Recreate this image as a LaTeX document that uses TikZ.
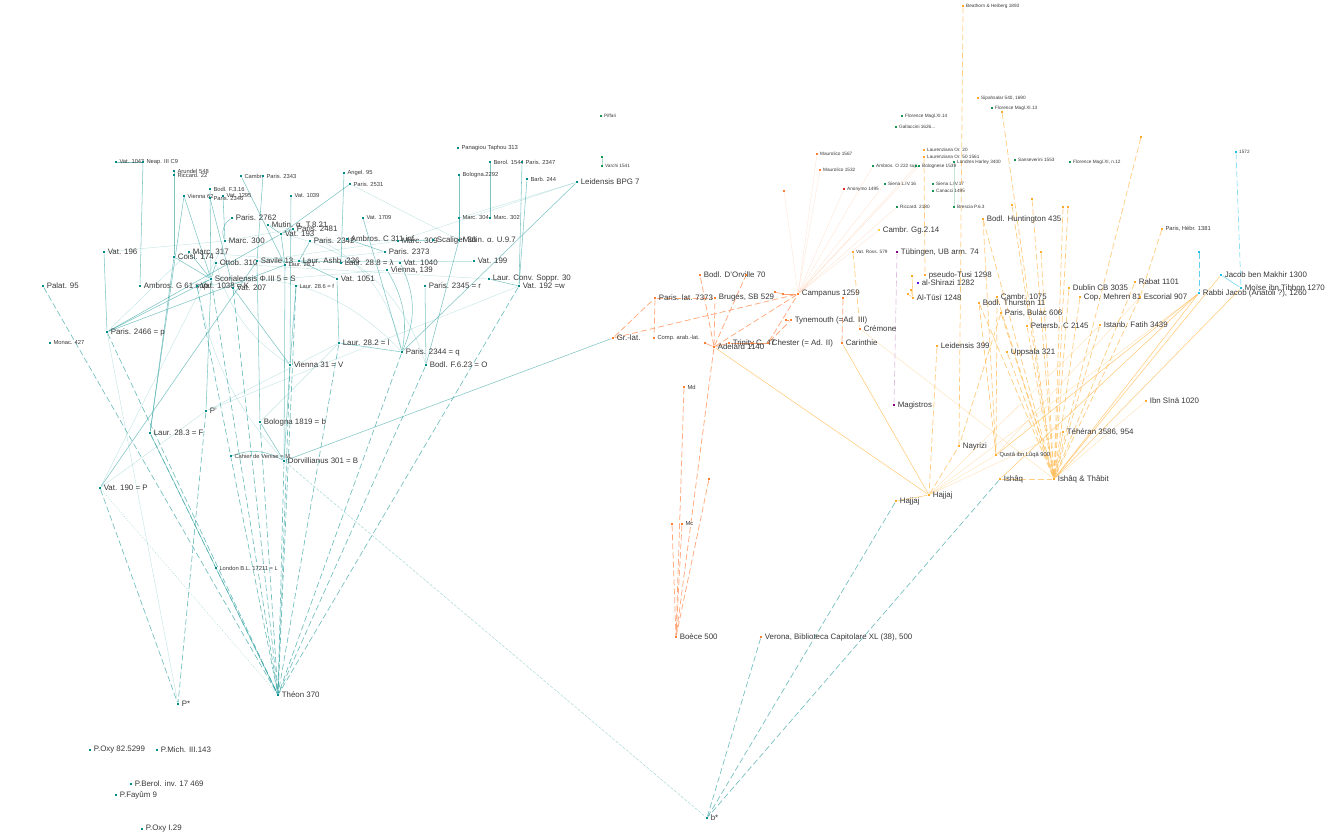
\documentclass[tikz,border=0pt]{standalone}
\usepackage{fontspec}
\setmainfont{Liberation Sans}
\definecolor{tc}{RGB}{0,139,139}
\definecolor{tl}{RGB}{50,160,160}
\definecolor{oc}{RGB}{255,127,50}
\definecolor{ol}{RGB}{255,160,110}
\definecolor{ac}{RGB}{255,170,40}
\definecolor{al}{RGB}{255,190,90}
\definecolor{gc}{RGB}{20,150,80}
\definecolor{cc}{RGB}{30,190,230}
\definecolor{pc}{RGB}{128,0,128}
\definecolor{bc}{RGB}{100,20,230}
\definecolor{rc}{RGB}{220,40,40}
\definecolor{yc}{RGB}{255,210,60}
\pgfdeclarelayer{bg}
\pgfsetlayers{bg,main}
\tikzset{
  dot/.style={rectangle,inner sep=0pt,minimum size=2.8pt,fill=#1},
  sdot/.style={rectangle,inner sep=0pt,minimum size=2.2pt,fill=#1},
  labB/.style={font=\fontsize{7.9}{8}\selectfont,inner sep=1.5pt,label distance=0.5pt,text=black!78},
  labM/.style={font=\fontsize{5.8}{6}\selectfont,inner sep=1.5pt,label distance=0.5pt,text=black!78},
  labS/.style={font=\fontsize{4.7}{5}\selectfont,inner sep=1.2pt,label distance=0.5pt,text=black!78},
  te/.style={draw=tl,line width=0.55pt,opacity=0.62},
  tf/.style={draw=tl,line width=0.45pt,opacity=0.28},
  td/.style={draw=tl,line width=0.65pt,dash pattern=on 6pt off 3pt,opacity=0.7},
  tdf/.style={draw=tl,line width=0.45pt,dash pattern=on 3pt off 1.5pt,opacity=0.45},
  tdot/.style={draw=tl,line width=0.4pt,dash pattern=on 1pt off 1.5pt,opacity=0.45},
  oe/.style={draw=ol,line width=0.6pt},
  od/.style={draw=ol,line width=0.75pt,dash pattern=on 6pt off 3pt,opacity=0.9},
  of/.style={draw=ol,line width=0.4pt,opacity=0.28},
  ae/.style={draw=al,line width=0.55pt,opacity=0.8},
  ad/.style={draw=al,line width=0.75pt,dash pattern=on 6pt off 3pt,opacity=0.75},
  af/.style={draw=al,line width=0.4pt,opacity=0.45},
  cd/.style={draw=cc!50,line width=0.7pt,dash pattern=on 6pt off 3pt},
  pd/.style={draw=pc!25,line width=0.7pt,dash pattern=on 6pt off 3pt},
}
\newcommand\mnode[6]{\node[dot=#4,label={[lab#5]right:{#6}}] (#1) at (#2,#3) {};}
\newcommand\snode[6]{\node[sdot=#4,label={[lab#5]right:{#6}}] (#1) at (#2,#3) {};}
\newcommand\udot[4]{\node[sdot=#4] (#1) at (#2,#3) {};}
\begin{document}
\begin{tikzpicture}[x=1pt,y=-1pt]
\path[use as bounding box] (0,0) rectangle (1334,834);
% ---------- teal (Greek) nodes ----------
\snode{vat1043}{116}{162}{tc}{M}{Vat. 1043}
\snode{neap}{143}{162}{tc}{M}{Neap. III C9}
\snode{arundel}{174}{171}{tc}{M}{Arundel 548}
\snode{ricc22}{174}{175}{tc}{M}{Riccard. 22}
\snode{cambr}{241}{176}{tc}{M}{Cambr.}
\snode{par2343}{263}{176}{tc}{M}{Paris. 2343}
\snode{bodlF}{210}{189}{tc}{M}{Bodl. F.3.16}
\snode{vien62}{184}{196}{tc}{M}{Vienna 62}
\snode{vat1295}{223}{196}{tc}{M}{Vat. 1295}
\snode{par2346}{210}{198}{tc}{M}{Paris. 2346}
\mnode{par2762}{232}{218}{tc}{B}{Paris. 2762}
\mnode{mutinT}{268}{225}{tc}{B}{Mutin. α. T.8.21}
\mnode{par2481}{293}{229}{tc}{B}{Paris. 2481}
\mnode{vat193}{281}{234}{tc}{B}{Vat. 193}
\mnode{marc300}{225}{241}{tc}{B}{Marc. 300}
\mnode{vat196}{104}{252}{tc}{B}{Vat. 196}
\mnode{marc317}{189}{252}{tc}{B}{Marc. 317}
\mnode{coisl}{174}{257}{tc}{B}{Coisl. 174}
\mnode{ottob}{216}{263}{tc}{B}{Ottob. 310}
\mnode{savile}{257}{261}{tc}{B}{Savile 13}
\mnode{scor}{211}{279}{tc}{B}{Scorialensis Φ.III 5 = S}
\mnode{palat}{43}{286}{tc}{B}{Palat. 95}
\mnode{ambG}{140}{286}{tc}{B}{Ambros. G 61 sup.}
\mnode{vat1038}{197}{286}{tc}{B}{Vat. 1038 = K}
\mnode{vat207}{233}{288}{tc}{B}{Vat. 207}
\snode{laur281}{285}{265}{tc}{M}{Laur. 28.1}
\mnode{laurAshb}{299}{261}{tc}{B}{Laur. Ashb. 236}
\mnode{laur288}{341}{263}{tc}{B}{Laur. 28.8 = λ}
\snode{laur286}{296}{286}{tc}{M}{Laur. 28.6 = f}
\snode{vat1039}{291}{196}{tc}{M}{Vat. 1039}
\snode{angel}{344}{173}{tc}{M}{Angel. 95}
\snode{par2531}{350}{184}{tc}{M}{Paris. 2531}
\snode{vat1709}{363}{218}{tc}{M}{Vat. 1709}
\mnode{par2342}{310}{241}{tc}{B}{Paris. 2342}
\mnode{ambC}{347}{239}{tc}{B}{Ambros. C 311 inf.}
\mnode{marc309}{398}{241}{tc}{B}{Marc. 309}
\mnode{scal}{433}{240}{tc}{B}{Scaliger 36}
\mnode{mutinU}{459}{240}{tc}{B}{Mutin. α. U.9.7}
\mnode{par2373}{385}{252}{tc}{B}{Paris. 2373}
\mnode{vat1040}{400}{263}{tc}{B}{Vat. 1040}
\mnode{vien139}{387}{270}{tc}{B}{Vienna, 139}
\mnode{vat1051}{337}{279}{tc}{B}{Vat. 1051}
\mnode{par2345}{425}{286}{tc}{B}{Paris. 2345 = r}
\mnode{vat199}{474}{261}{tc}{B}{Vat. 199}
\mnode{laurConv}{489}{279}{tc}{B}{Laur. Conv. Soppr. 30}
\mnode{vat192}{519}{286}{tc}{B}{Vat. 192 =w}
\snode{panag}{458}{148}{tc}{M}{Panagiou Taphou 313}
\snode{berol}{490}{162}{tc}{M}{Berol. 1544}
\snode{par2347}{522}{162}{tc}{M}{Paris. 2347}
\snode{bol2292}{459}{175}{tc}{M}{Bologna.2292}
\snode{barb}{527}{179}{tc}{M}{Barb. 244}
\mnode{leidBPG}{577}{182}{tc}{B}{Leidensis BPG 7}
\snode{marc304}{459}{218}{tc}{M}{Marc. 304}
\snode{marc302}{490}{218}{tc}{M}{Marc. 302}
\mnode{par2466}{107}{332}{tc}{B}{Paris. 2466 = p}
\snode{monac}{50}{343}{tc}{M}{Monac. 427}
\mnode{laur282}{339}{343}{tc}{B}{Laur. 28.2 = l}
\mnode{par2344}{402}{352}{tc}{B}{Paris. 2344 = q}
\mnode{vien31}{290}{365}{tc}{B}{Vienna 31 = V}
\mnode{bodlO}{426}{365}{tc}{B}{Bodl. F.6.23 = O}
\mnode{Pp}{206}{411}{tc}{B}{P'}
\mnode{bol1819}{260}{422}{tc}{B}{Bologna 1819 = b}
\mnode{laur283}{150}{433}{tc}{B}{Laur. 28.3 = F}
\snode{cahier}{231}{456}{tc}{M}{Cahier de Venise = M}
\mnode{dorv}{284}{461}{tc}{B}{Dorvillianus 301 = B}
\mnode{vat190}{100}{488}{tc}{B}{Vat. 190 = P}
\snode{london}{216}{568}{tc}{M}{London B.L. 17211 = L}
\mnode{theon}{278}{695}{tc}{B}{Théon 370}
\mnode{Pstar}{178}{704}{tc}{B}{P*}
\mnode{poxy82}{90}{750}{tc}{B}{P.Oxy 82.5299}
\mnode{pmich}{157}{750}{tc}{B}{P.Mich. III.143}
\mnode{pberol}{131}{784}{tc}{B}{P.Berol. inv. 17 469}
\mnode{pfay}{116}{795}{tc}{B}{P.Fayûm 9}
\mnode{poxyI}{142}{829}{tc}{B}{P.Oxy I.29}
\mnode{bstar}{707}{818}{tc}{B}{b*}
% ---------- green ----------
\snode{piffari}{601}{116}{gc}{S}{Piffari}
\udot{gdot}{602}{157}{gc}
\snode{varchi}{602}{166}{gc}{S}{Varchi 1541}
\snode{flor14}{902}{116}{gc}{S}{Florence Magl.XI.14}
\snode{gallac}{896}{127}{gc}{S}{Gallaccini 1626...}
\snode{flor13}{992}{108}{gc}{S}{Florence Magl.XI.13}
\snode{londres}{954}{162}{gc}{S}{Londres Harley 3400}
\snode{sansev}{1015}{160}{gc}{S}{Sanseverini 1553}
\snode{flor12}{1070}{162}{gc}{S}{Florence Magl.XI, n.12}
\snode{ambO}{873}{166}{gc}{S}{Ambros. O 222 sup.}
\udot{gdot2}{916}{166}{gc}
\snode{bolog39}{919}{166}{gc}{S}{Bolognese 1539}
\snode{siena16}{885}{184}{gc}{S}{Siena L.IV.16}
\snode{siena17}{933}{184}{gc}{S}{Siena L.IV.17}
\snode{canacci}{933}{191}{gc}{S}{Canacci 1495}
\snode{ricc2180}{897}{207}{gc}{S}{Riccard. 2180}
\snode{brescia}{954}{207}{gc}{S}{Brescia P.6.3}
% ---------- orange (Latin) ----------
\snode{maur67}{817}{154}{oc}{S}{Maurolico 1567}
\snode{maur32}{820}{170}{oc}{S}{Maurolico 1532}
\snode{anon}{844}{189}{rc}{S}{Anonymo 1495}
\udot{odot1}{784}{191}{oc}
\mnode{dorville}{700}{275}{oc}{B}{Bodl. D'Orville 70}
\udot{odot2}{746}{275}{oc}
\mnode{par7373}{655}{298}{oc}{B}{Paris. lat. 7373}
\mnode{bruges}{715}{298}{oc}{B}{Bruges, SB 529}
\udot{camp1}{775}{292}{oc}
\udot{camp2}{783}{294}{oc}
\mnode{campanus}{798}{294}{oc}{B}{Campanus 1259}
\udot{tyne2}{786}{320}{oc}
\mnode{tyne}{791}{320}{oc}{B}{Tynemouth (=Ad. III)}
\mnode{cremone}{860}{329}{oc}{B}{Crémone}
\mnode{grlat}{613}{338}{oc}{B}{Gr.-lat.}
\snode{complat}{654}{338}{oc}{M}{Comp. arab.-lat.}
\udot{adot}{705}{343}{oc}
\mnode{adelard}{714}{347}{oc}{B}{Adelard 1140}
\mnode{trinity}{729}{343}{oc}{B}{Trinity C. 47}
\udot{chdot}{752}{343}{oc}
\mnode{chester}{768}{343}{oc}{B}{Chester (= Ad. II)}
\udot{cardot}{843}{298}{oc}
\mnode{carinthie}{842}{343}{oc}{B}{Carinthie}
\snode{md}{684}{387}{oc}{M}{Md}
\udot{mdot2}{709}{479}{oc}
\udot{mcdot}{672}{524}{oc}
\snode{mc}{682}{524}{oc}{M}{Mc}
\mnode{boece}{676}{637}{oc}{B}{Boèce 500}
\mnode{verona}{761}{637}{oc}{B}{Verona, Biblioteca Capitolare XL (38), 500}
% ---------- amber (Arabic) ----------
\snode{besthorn}{963}{6}{ac}{S}{Beathorn \& Heiberg 1893}
\snode{sipah}{978}{98}{ac}{S}{Sipahsalar 540, 1690}
\udot{adot13}{1002}{112}{ac}
\snode{laurOr20}{924}{150}{ac}{S}{Laurenziana Or. 20}
\snode{laurOr50}{924}{157}{ac}{S}{Laurenziana Or. 50 1561}
\mnode{hunt}{983}{219}{ac}{B}{Bodl. Huntington 435}
\mnode{cambrGg}{879}{230}{yc}{B}{Cambr. Gg.2.14}
\udot{adotA}{1012}{205}{ac}
\udot{adotB}{1032}{199}{ac}
\udot{adotC}{1063}{207}{ac}
\udot{adotD}{1068}{207}{ac}
\udot{adotE}{1141}{137}{ac}
\udot{adotF}{1041}{252}{ac}
\snode{vatross}{853}{252}{ac}{S}{Vat. Ross. 579}
\mnode{tub}{897}{252}{pc}{B}{Tübingen, UB arm. 74}
\mnode{pseudo}{925}{275}{ac}{B}{pseudo-Tusi 1298}
\mnode{shirazi}{918}{283}{bc}{B}{al-Shirazi 1282}
\udot{tdot1}{912}{276}{ac}
\udot{tdot2}{908}{294}{ac}
\udot{tdot3}{911}{290}{ac}
\mnode{tusi}{913}{298}{ac}{B}{Al-Tūsī 1248}
\mnode{cambr1075}{997}{297}{ac}{B}{Cambr. 1075}
\mnode{thurston}{979}{303}{ac}{B}{Bodl. Thurston 11}
\mnode{bulac}{1001}{313}{ac}{B}{Paris, Bulac 606}
\mnode{petersb}{1027}{326}{ac}{B}{Petersb. C 2145}
\mnode{dublin}{1069}{288}{ac}{B}{Dublin CB 3035}
\mnode{copm}{1080}{297}{ac}{B}{Cop. Mehren 81}
\mnode{rabat}{1135}{282}{ac}{B}{Rabat 1101}
\mnode{escorial}{1140}{297}{ac}{B}{Escorial 907}
\mnode{istanb}{1100}{325}{ac}{B}{Istanb. Fatih 3439}
\mnode{leid399}{937}{346}{ac}{B}{Leidensis 399}
\mnode{uppsala}{1007}{352}{ac}{B}{Uppsala 321}
\snode{parhebr}{1162}{229}{ac}{M}{Paris, Hébr. 1381}
\snode{c1572}{1236}{152}{cc}{S}{1572}
\udot{cdot}{1199}{252}{cc}
\mnode{jacobM}{1221}{275}{cc}{B}{Jacob ben Makhir 1300}
\mnode{moise}{1241}{288}{cc}{B}{Moïse ibn Tibbon 1270}
\mnode{rabbiJ}{1199}{293}{cc}{B}{Rabbi Jacob (Anatoli ?), 1260}
\mnode{magistros}{894}{405}{pc}{B}{Magistros}
\mnode{ibnsina}{1146}{401}{ac}{B}{Ibn Sīnā 1020}
\mnode{teheran}{1063}{432}{ac}{B}{Téhéran 3586, 954}
\mnode{nayrizi}{959}{446}{ac}{B}{Nayrizi}
\snode{qusta}{996}{455}{ac}{M}{Qustâ ibn Lûqâ 900}
\mnode{ishaq}{1000}{479}{ac}{B}{Ishâq}
\mnode{ishaqT}{1054}{479}{ac}{B}{Ishâq \& Thâbit}
\mnode{hajjajR}{929}{495}{ac}{B}{Hajjaj}
\mnode{hajjajL}{896}{501}{ac}{B}{Hajjaj}
% ================= edges =================
\begin{pgfonlayer}{bg}
% teal solid
\foreach \a/\b in {neap/ambG,arundel/coisl,coisl/scor,vien62/scor,vien62/laur283,bodlF/scor,
  vat1295/marc300,par2343/savile,cambr/laur281,vat196/par2466,scor/vat1038,angel/laur288,
  par2531/vat193,vat1039/vien31,vat1709/par2344,bol2292/mutinU,berol/marc302,par2347/vat192,
  barb/vat192,leidBPG/par2344,mutinU/bodlO,vat192/laurConv,laur282/par2344,vat1051/laur282,
  par2345/bodlO,vat190/savile,vien31/dorv,laur281/dorv,bol1819/dorv,savile/bol1819,grlat/dorv,
  Pp/scor,laur283/coisl,london/theon,marc317/scor,ottob/scor,mutinT/vat193,par2481/vat193,
  par2342/laurAshb,ambC/par2373,scal/marc309,par2466/scor,par2466/laur281,par2466/vat193,
  laurAshb/vat1051,vat193/laur281,par2346/vat207,vat207/vien31,laur286/vien31,laur283/london,
  marc304/mutinU,vat1043/neap}
  \draw[te] (\a) -- (\b);
\draw[te] (par2762) to[bend right=40] (marc300);
\draw[te] (vat1040) to[bend left=25] (par2344);
\draw[te] (cahier) to[bend left=25] (dorv);
\draw[te] (vien139) to[bend left=20] (par2344);
% teal faint
\foreach \a/\b in {vat196/marc300,par2531/mutinU,leidBPG/marc309,leidBPG/marc304,Pp/vat192,
  savile/vat199,laurAshb/par2373,par2466/Pstar,vat190/Pp,marc300/par2481,par2342/scal,
  ottob/laurConv,savile/marc309,par2466/marc317,marc317/laur288,vat1038/vien139,bol1819/laur282,
  Pp/laur282,vat190/marc300}
  \draw[tf] (\a) -- (\b);
\draw[tf] (scor) to[bend left=25] (par2344);
\draw[tf] (vat193) to[bend left=30] (bodlO);
\draw[tf] (ottob) to[bend right=20] (vien31);
\draw[tf] (mutinT) to[bend left=35] (par2344);
\draw[tf] (vat1038) to[bend right=15] (dorv);
% teal dashed to Theon and P*
\foreach \a in {palat,par2466,laur283,scor,vat1038,vat207,bol1819,vien31,dorv,laur286,laur282,par2344,bodlO,vat192}
  \draw[td] (\a) -- (theon);
\draw[td] (vat190) -- (Pstar);
\draw[td] (Pp) -- (Pstar);
\draw[tdot] (vat190) -- (theon);
\draw[tdf] (dorv) -- (bstar);
\draw[td] (verona) -- (bstar);
\draw[td] (hajjajL) -- (bstar);
\draw[td] (ishaq) -- (bstar);
% green
\draw[draw=gc!35,line width=0.7pt] (gdot) -- (varchi);
\draw[draw=gc!25,line width=0.4pt] (londres) -- (brescia);
% orange Latin
\foreach \a/\b in {grlat/par7373,par7373/complat,grlat/campanus,adelard/dorville,adelard/bruges,
  adelard/campanus,adelard/odot2,chester/campanus,chester/tyne,cardot/carinthie,
  md/boece,mc/boece,mcdot/boece,mdot2/boece,adelard/boece,par7373/bruges}
  \draw[od] (\a) -- (\b);
\foreach \a/\b in {adot/adelard,adelard/trinity,trinity/chdot,chdot/chester,tyne2/tyne,camp1/camp2,camp2/campanus}
  \draw[oe] (\a) -- (\b);
\foreach \a in {maur67,maur32,anon,siena16,ambO,bolog39,ricc2180,cambrGg,odot1,gdot2}
  \draw[of] (campanus) -- (\a);
% amber Arabic
\foreach \a in {cambr1075,thurston,bulac,petersb,uppsala,dublin,copm,rabat,escorial,istanb,hunt,
  adotA,adotB,adotC,adotD,adotE,adotF,adot13}
  \draw[ad] (\a) -- (ishaqT);
\foreach \a/\b in {ishaq/ishaqT,leid399/hajjajR,hajjajR/nayrizi,besthorn/nayrizi,vatross/cremone,
  parhebr/escorial,thurston/qusta,cambr1075/qusta,laurOr50/pseudo,hunt/qusta,bulac/nayrizi}
  \draw[ad] (\a) -- (\b);
\foreach \a/\b in {hajjajL/hajjajR,ishaqT/rabbiJ,ishaqT/jacobM,ishaqT/moise,ishaqT/teheran,
  adelard/hajjajR,carinthie/hajjajR,tdot1/tusi,tdot2/tusi,tdot3/tusi,qusta/rabbiJ,ishaq/rabbiJ}
  \draw[ae] (\a) -- (\b);
\foreach \a/\b in {cremone/ishaqT,hajjajR/teheran,hajjajR/istanb,hajjajR/rabbiJ,qusta/escorial,
  hajjajR/qusta,ishaqT/ibnsina}
  \draw[af] (\a) -- (\b);
% cyan, purple
\draw[cd] (c1572) -- (moise);
\draw[draw=cc!70,line width=1pt,dash pattern=on 6pt off 3pt] (cdot) -- (rabbiJ);
\draw[draw=cc!60,line width=0.6pt] (jacobM) -- (moise);
\draw[pd] (tub) -- (magistros);
\end{pgfonlayer}
\end{tikzpicture}
\end{document}
